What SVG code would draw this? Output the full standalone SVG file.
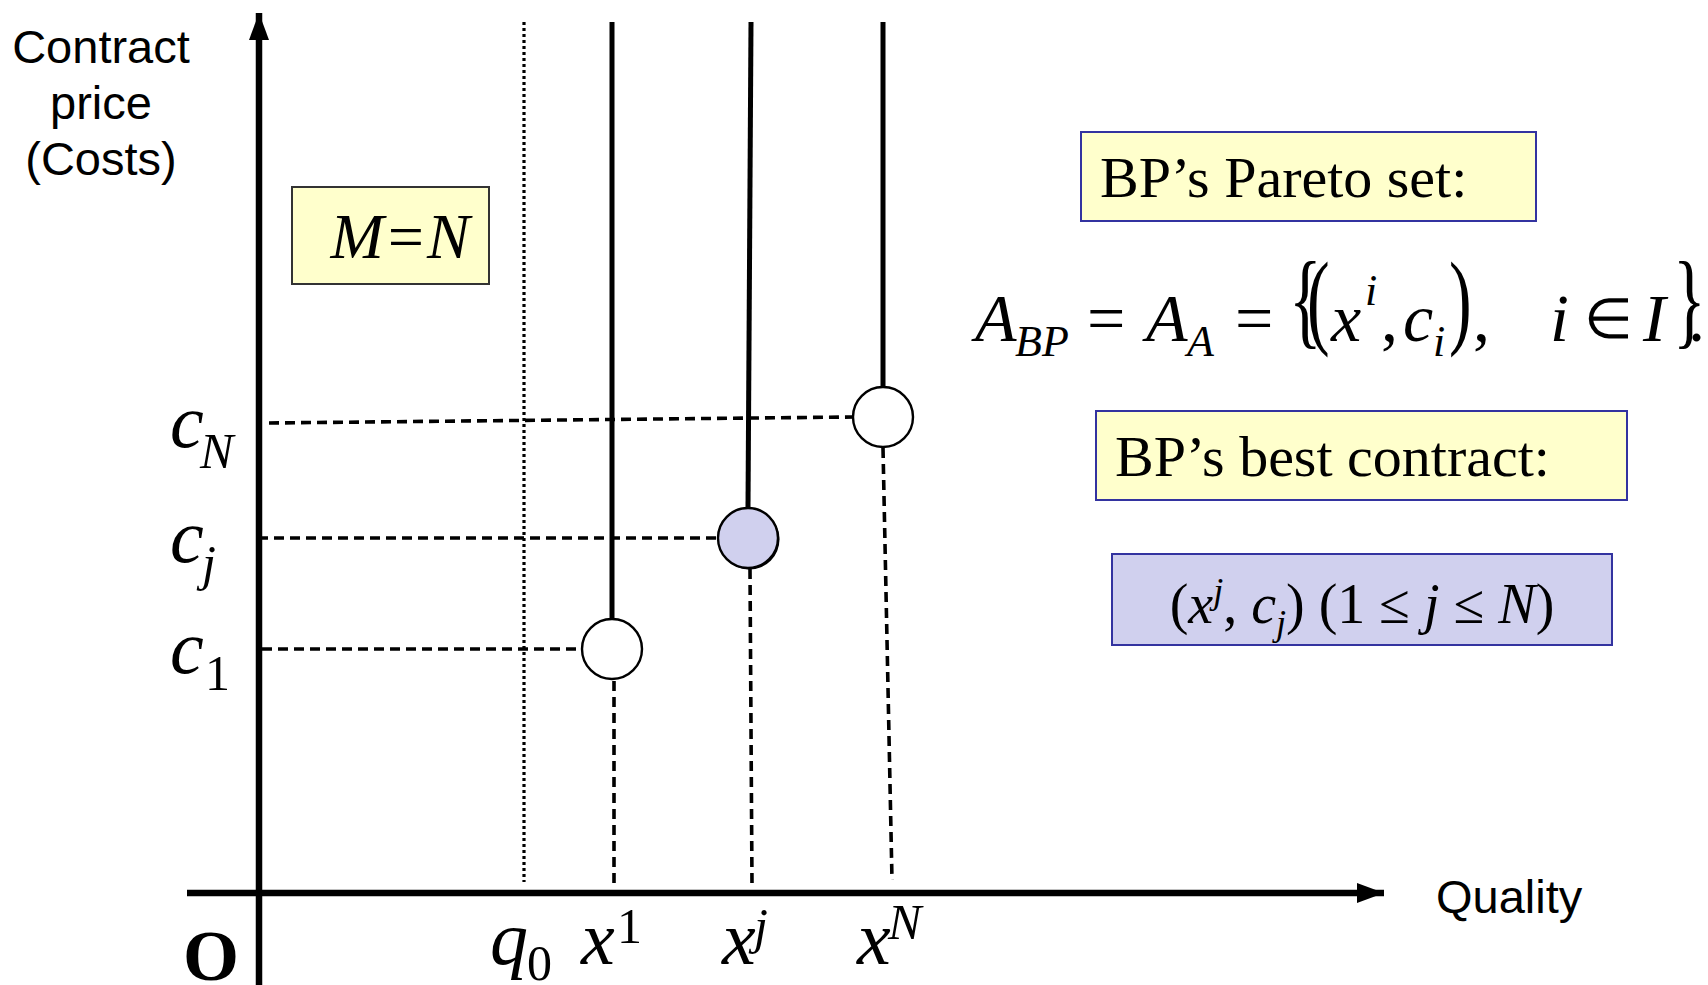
<svg xmlns="http://www.w3.org/2000/svg" width="1708" height="985" viewBox="0 0 1708 985">
<style>
.sans{font-family:"Liberation Sans",Arial,sans-serif;font-size:47px;fill:#000}
.ser{font-family:"Liberation Serif","Times New Roman",serif;fill:#000}
.it{font-family:"Liberation Serif","Times New Roman",serif;font-style:italic;fill:#000}
.axis{stroke:#000;stroke-width:6.5;fill:none}
.solid{stroke:#000;stroke-width:5;fill:none}
.dash{stroke:#000;stroke-width:3.6;stroke-dasharray:10 6;fill:none}
.dot{stroke:#000;stroke-width:3.2;stroke-dasharray:3 3;fill:none}
.ybox{fill:#FFFFCC;stroke:#3333A0;stroke-width:2}
.lbox{fill:#D0D0EE;stroke:#3333A0;stroke-width:2}
.pt{fill:#fff;stroke:#000;stroke-width:2.4}
</style>
<defs>
<marker id="ah" markerUnits="userSpaceOnUse" markerWidth="30" markerHeight="24" refX="27" refY="12" orient="auto">
<path d="M0,2 L27,12 L0,22 Z" fill="#000"/>
</marker>
</defs>
<rect width="1708" height="985" fill="#fff"/>

<g id="connectors">
<line class="axis" x1="259" y1="985" x2="259" y2="13" marker-end="url(#ah)"/>
<line class="axis" x1="187" y1="893" x2="1384" y2="893" marker-end="url(#ah)"/>
<line class="dot" x1="524" y1="22" x2="524" y2="882"/>
<line class="solid" x1="612" y1="22" x2="612" y2="619"/>
<line class="solid" x1="751" y1="22" x2="748" y2="508"/>
<line class="solid" x1="883" y1="22" x2="883" y2="387"/>
<line class="dash" x1="614" y1="681" x2="614" y2="885"/>
<line class="dash" x1="750" y1="569" x2="752" y2="885"/>
<line class="dash" x1="883" y1="448" x2="892" y2="880"/>
<line class="dash" x1="269" y1="423" x2="853" y2="417"/>
<line class="dash" x1="258" y1="538" x2="718" y2="538"/>
<line class="dash" x1="262" y1="649" x2="582" y2="649"/>
</g>

<g id="pt-1"><circle class="pt" cx="612" cy="649" r="30"/></g>
<g id="pt-j"><circle cx="749.5" cy="539.5" r="30" fill="#000"/><circle cx="748" cy="538" r="30" fill="#D0D0EE" stroke="#000" stroke-width="2.4"/></g>
<g id="pt-N"><circle class="pt" cx="883" cy="417" r="30"/></g>

<g id="ylabel">
<text class="sans" x="101" y="63" text-anchor="middle">Contract</text>
<text class="sans" x="101" y="119" text-anchor="middle">price</text>
<text class="sans" x="101" y="175" text-anchor="middle">(Costs)</text>
</g>
<g id="xlabel"><text class="sans" x="1436" y="913">Quality</text></g>
<g id="origin"><text class="ser" x="183" y="980" font-size="72" font-weight="bold">O</text></g>

<g id="box-mn">
<rect x="292" y="187" width="197" height="97" fill="#FFFFCC" stroke="#333" stroke-width="2"/>
<text class="it" x="400" y="258" font-size="64" text-anchor="middle">M=N</text>
</g>

<g id="cN"><text class="it" x="170" y="447" font-size="76">c</text><text class="it" x="200" y="468" font-size="50">N</text></g>
<g id="cj"><text class="it" x="170" y="562" font-size="76">c</text><text class="it" x="202" y="580" font-size="50">j</text></g>
<g id="c1"><text class="it" x="170" y="673" font-size="76">c</text><text class="ser" x="205" y="690" font-size="50">1</text></g>

<g id="q0"><text class="it" x="490" y="964" font-size="76">q</text><text class="ser" x="527" y="980" font-size="50">0</text></g>
<g id="x1"><text class="it" x="581" y="964" font-size="76">x</text><text class="ser" x="617" y="943" font-size="50">1</text></g>
<g id="xj"><text class="it" x="722" y="964" font-size="76">x</text><text class="it" x="754" y="943" font-size="50">j</text></g>
<g id="xN"><text class="it" x="857" y="964" font-size="76">x</text><text class="it" x="888" y="939" font-size="50">N</text></g>

<g id="box-pareto">
<rect class="ybox" x="1081" y="132" width="455" height="89"/>
<text class="ser" x="1100" y="197" font-size="58">BP’s Pareto set:</text>
</g>

<g id="equation">
<text class="it" x="975" y="341" font-size="68">A</text>
<text class="it" x="1015" y="356" font-size="44">BP</text>
<text class="ser" x="1087" y="341" font-size="68">=</text>
<text class="it" x="1146" y="341" font-size="68">A</text>
<text class="it" x="1187" y="356" font-size="44">A</text>
<text class="ser" x="1235" y="341" font-size="68">=</text>
<text class="ser" font-size="68" transform="translate(1289,341) scale(1,1.55)" y="-4">{</text>
<text class="ser" font-size="68" transform="translate(1307,341) scale(1,1.55)" y="-4">(</text>
<text class="it" x="1331" y="341" font-size="68">x</text>
<text class="it" x="1365" y="305" font-size="44">i</text>
<text class="ser" x="1381" y="341" font-size="68">,</text>
<text class="it" x="1403" y="341" font-size="68">c</text>
<text class="it" x="1433" y="356" font-size="44">i</text>
<text class="ser" font-size="68" transform="translate(1449,341) scale(1,1.55)" y="-4">)</text>
<text class="ser" x="1473" y="341" font-size="68">,</text>
<text class="it" x="1550" y="341" font-size="68">i</text>
<text class="ser" x="1584" y="338" font-size="56">∈</text>
<text class="it" x="1643" y="341" font-size="68">I</text>
<text class="ser" font-size="68" transform="translate(1673,341) scale(1,1.55)" y="-4">}</text>
<text class="ser" x="1688" y="341" font-size="68">.</text>
</g>

<g id="box-best">
<rect class="ybox" x="1096" y="411" width="531" height="89"/>
<text class="ser" x="1115" y="476" font-size="58">BP’s best contract:</text>
</g>

<g id="box-result">
<rect class="lbox" x="1112" y="554" width="500" height="91"/>
<text class="ser" x="1362" y="623" font-size="56" text-anchor="middle">(<tspan class="it">x</tspan><tspan class="it" font-size="36" dy="-20">j</tspan><tspan dy="20">, </tspan><tspan class="it">c</tspan><tspan class="it" font-size="36" dy="12">j</tspan><tspan dy="-12">) (1 ≤ </tspan><tspan class="it">j</tspan> ≤ <tspan class="it">N</tspan>)</text>
</g>
</svg>
